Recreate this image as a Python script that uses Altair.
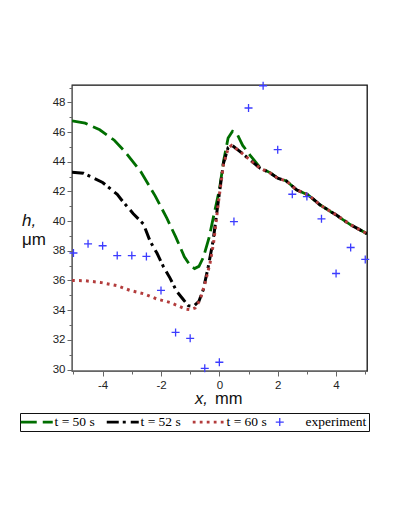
import altair as alt
import pandas as pd

# ---- data ----
x50 = [-5.05, -4.6, -4.1, -3.6, -3.2, -2.7, -2.2, -1.8, -1.5, -1.2, -1.0, -0.85, -0.7, -0.55,
       -0.35, -0.2, 0.0, 0.15, 0.3, 0.45, 0.6, 0.8, 1.05, 1.4, 1.75, 2.0, 2.3, 2.65, 3.05, 3.45,
       4.0, 4.5, 5.06]
h50 = [46.76, 46.6, 46.15, 45.45, 44.6, 43.35, 41.7, 40.2, 38.95, 37.6, 37.0, 36.8, 36.95, 37.55,
       38.9, 40.3, 42.1, 44.1, 45.6, 46.05, 45.9, 45.1, 44.45, 43.6, 43.25, 42.9, 42.7, 42.1, 41.75,
       41.1, 40.4, 39.75, 39.15]

x52 = [-5.05, -4.66, -4.0, -3.5, -3.3, -2.95, -2.6, -2.37, -2.14, -1.92, -1.69, -1.46, -1.23,
       -1.06, -0.89, -0.7, -0.55, -0.38, -0.22, -0.03, 0.14, 0.3, 0.42, 0.7, 1.05, 1.4, 1.75, 2.0,
       2.3, 2.65, 3.05, 3.45, 4.0, 4.5, 5.06]
h52 = [43.3, 43.23, 42.6, 41.8, 41.3, 40.5, 39.8, 38.63, 37.85, 36.94, 36.16, 35.26, 34.7,
       34.3, 34.25, 34.6, 35.38, 36.94, 38.6, 41.43, 43.9, 44.95, 45.13, 44.7, 44.12, 43.56, 43.23,
       42.89, 42.7, 42.1, 41.77, 41.09, 40.42, 39.75, 39.15]

x60 = [-5.05, -4.6, -4.08, -3.51, -3.06, -2.6, -2.14, -1.69, -1.17, -1.0, -0.83, -0.66, -0.49,
       -0.32, -0.2, -0.03, 0.14, 0.3, 0.42, 0.7, 1.05, 1.4, 1.75, 2.0, 2.3, 2.65, 3.05, 3.45, 4.0,
       4.5, 5.06]
h60 = [36.0, 35.98, 35.87, 35.65, 35.33, 35.11, 34.75, 34.52, 34.08, 34.03, 34.15, 34.7, 35.82,
       37.17, 38.5, 41.3, 43.8, 44.9, 45.1, 44.7, 44.12, 43.56, 43.23, 42.89, 42.7, 42.1, 41.77,
       41.09, 40.42, 39.75, 39.15]

x_exp = [-5.0, -4.5, -4.0, -3.5, -3.0, -2.5, -2.0, -1.5, -1.0, -0.5, 0.0, 0.5, 1.0, 1.5, 2.0,
         2.5, 3.0, 3.5, 4.0, 4.5, 5.0]
h_exp = [37.85, 38.47, 38.34, 37.68, 37.68, 37.62, 35.33, 32.5, 32.1, 30.08, 30.49, 39.97, 47.62,
         49.12, 44.81, 41.81, 41.65, 40.15, 36.47, 38.22, 37.42]

series = ["t = 50 s", "t = 52 s", "t = 60 s", "experiment"]
colors = ["#006e00", "#000000", "#b33c3c", "#3c3cff"]
dashes = [[16, 6], [12, 4, 3, 5], [2.8, 4.2], [1, 0]]
# line symbols run from the left of the legend slot to twice its width; cross is centred
shapes = ["M-1,0L3,0", "M-1,0L3,0", "M-1,0L3,0", "M-0.5,0L0.5,0M0,-0.5L0,0.5"]

frames = []
for name, xs, hs in [(series[0], x50, h50), (series[1], x52, h52), (series[2], x60, h60),
                     (series[3], x_exp, h_exp)]:
    frames.append(pd.DataFrame({"x": xs, "h": hs, "series": name}))
df = pd.concat(frames, ignore_index=True)

# ---- encodings ----
x_ticks = list(range(-5, 6))
y_ticks = list(range(30, 50))

minor = {"condition": {"test": "abs(datum.value) % 2 == 1", "value": 3}, "value": 5}

x_enc = alt.X("x:Q", scale=alt.Scale(domain=[-5.05, 5.06], nice=False, zero=False),
              axis=alt.Axis(values=x_ticks, title=None, grid=False, tickSize=minor,
                            labelExpr="abs(datum.value) % 2 == 0 && abs(datum.value) < 5 ? datum.value + '' : ''",
                            labelFont="Liberation Sans", labelFontSize=11.5, labelColor="#222",
                            labelPadding=3, domainColor="#666", tickColor="#666"))
y_enc = alt.Y("h:Q", scale=alt.Scale(domain=[29.9, 49.17], nice=False, zero=False),
              axis=alt.Axis(values=y_ticks, title=None, grid=False, tickSize=minor,
                            labelExpr="datum.value % 2 == 0 ? datum.value + '' : ''",
                            labelFont="Liberation Sans", labelFontSize=11.5, labelColor="#222",
                            labelPadding=2, domainColor="#666", tickColor="#666"))

legend = alt.Legend(title=None)
color_enc = alt.Color("series:N", scale=alt.Scale(domain=series, range=colors), legend=legend)
dash_enc = alt.StrokeDash("series:N", scale=alt.Scale(domain=series, range=dashes), legend=legend)
shape_enc = alt.Shape("series:N", scale=alt.Scale(domain=series, range=shapes), legend=legend)

base = alt.Chart(df)

def line_layer(name, width):
    return base.mark_line(strokeWidth=width, clip=True).encode(
        x=x_enc, y=y_enc, color=color_enc, strokeDash=dash_enc
    ).transform_filter(alt.datum.series == name)

l50 = line_layer(series[0], 2.8)
l52 = line_layer(series[1], 3.0)
l60 = line_layer(series[2], 3.0)

pts = base.mark_point(filled=False, size=256, strokeWidth=1.3, opacity=1).encode(
    x=x_enc, y=y_enc, color=color_enc, shape=shape_enc
).transform_filter(alt.datum.series == "experiment")

def txt(s, xv, yv, italic, size):
    return alt.Chart(pd.DataFrame({"t": [s]})).mark_text(
        align="left", baseline="alphabetic", font="Liberation Sans", fontSize=size,
        fontStyle="italic" if italic else "normal", color="#111"
    ).encode(x=alt.value(xv), y=alt.value(yv), text="t:N")

titles = (txt("h,", -50, 141, True, 17) + txt("μm", -50, 160, False, 17)
          + txt("x,", 123, 319, True, 16.5) + txt("mm", 143, 319, False, 16.5))

chart = alt.layer(l50, l52, l60, pts, titles).properties(
    width=295, height=286,
    autosize=alt.AutoSizeParams(type="none"),
    padding={"left": 64, "top": 77, "right": 16, "bottom": 100},
).configure_view(
    stroke="#111", strokeWidth=1.3
).configure_legend(
    orient="none", direction="horizontal", legendX=-52, legendY=328,
    strokeColor="#111", padding=2, symbolSize=256,
    symbolStrokeWidth={"expr": "datum.value == 'experiment' ? 1.3 : 2.6"},
    labelFont="Liberation Serif", labelFontSize=13.5, labelColor="#000",
    labelOffset=19, columnPadding=6
)

chart.save("out.html", embed_options={"renderer": "svg", "actions": False})
